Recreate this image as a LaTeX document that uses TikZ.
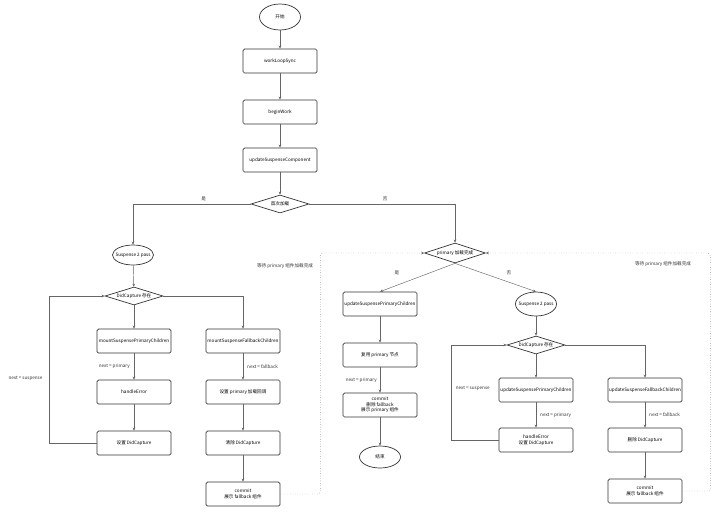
\documentclass[tikz,border=0pt]{standalone}
\usepackage{fontspec}
\setmainfont{Noto Sans CJK SC}
\usetikzlibrary{shapes.geometric,arrows.meta}

\begin{document}
\begin{tikzpicture}[x=1pt,y=-1pt,
    font=\fontsize{4.6}{5.6}\selectfont,
    box/.style={draw=black!80, line width=0.7pt, rounded corners=1.5pt,
      minimum width=74pt, minimum height=24pt, inner sep=1pt, align=center},
    oval/.style={ellipse, draw=black!80, line width=0.7pt, minimum width=41pt,
      minimum height=24pt, inner xsep=-3pt, inner ysep=0pt},
    cond/.style={diamond, draw=black!80, line width=0.7pt, aspect=3,
      inner sep=0.5pt, minimum width=58pt, minimum height=18pt},
    flow/.style={draw=black!60, line width=0.45pt, -{Stealth[length=3pt,width=2.6pt]}},
    wait/.style={flow, dotted, rounded corners=3pt},
    tag/.style={inner sep=1pt, text=black!80}]
  \useasboundingbox (0,0) rectangle (720,512);

  % main line
  \node[oval, minimum height=26pt] (start) at (280,17) {开始};
  \node[box] (loop) at (280,61) {workLoopSync};
  \node[box] (begin) at (280,112) {beginWork};
  \node[box] (update) at (280,160) {updateSuspenseComponent};
  \node[cond] (first) at (280,204) {首次加载};

  % first mount
  \node[oval, minimum height=20pt] (passL) at (133,255) {Suspense 2 pass};
  \node[cond] (capL) at (134,296) {DidCapture 存在};
  \node[box] (mountP) at (134,341) {mountSuspensePrimaryChildren};
  \node[box] (errL) at (134,392) {handleError};
  \node[box] (setL) at (134,443) {设置 DidCapture};
  \node[box] (mountF) at (243,341) {mountSuspenseFallbackChildren};
  \node[box] (attach) at (243,392) {设置 primary 加载回调};
  \node[box] (clearL) at (243,443) {清除 DidCapture};
  \node[box] (commitF) at (243,494) {commit\\展示 fallback 组件};

  % update
  \node[cond, minimum width=61pt, minimum height=20pt] (done) at (455,253) {primary 加载完成};
  \node[box] (updP) at (380,304) {updateSuspensePrimaryChildren};
  \node[box] (reuse) at (380,355) {复用 primary 节点};
  \node[box] (commitP) at (380,405) {commit\\删除 fallback\\展示 primary 组件};
  \node[oval, minimum height=22pt] (end) at (380,457) {结束};
  \node[oval] (passR) at (536,304) {Suspense 2 pass};
  \node[cond] (capR) at (536,345) {DidCapture 存在};
  \node[box] (updPR) at (536,390) {updateSuspensePrimaryChildren};
  \node[box] (errR) at (536,440) {handleError\\设置 DidCapture};
  \node[box] (updFR) at (645,390) {updateSuspenseFallbackChildren};
  \node[box] (delR) at (645,440) {删除 DidCapture};
  \node[box] (commitFR) at (645,491) {commit\\展示 fallback 组件};

  \node[tag] (waitL) at (285,266) {等待 primary 组件加载完成};
  \node[tag] (waitR) at (663,264) {等待 primary 组件加载完成};
  \node[tag] (yesR) at (397,273) {是};
  \node[tag] (noR) at (509,273) {否};

  \draw[flow] (start) -- (loop);
  \draw[flow] (loop) -- (begin);
  \draw[flow] (begin) -- (update);
  \draw[flow] (update) -- (first);
  \draw[flow] (first.west) -| node[tag, pos=0.2, above=2pt] {是} (passL.north);
  \draw[flow] (first.east) -| node[tag, pos=0.26, above=2pt] {否} (done.north);

  \draw[flow] (passL) -- (capL);
  \draw[flow] (capL) -- (mountP);
  \draw[flow] (capL.east) -| (mountF.north);
  \draw[flow] (mountP) -- node[tag, left=3pt] {next = primary} (errL);
  \draw[flow] (errL) -- (setL);
  \draw[flow] (setL.west) -- ++(-47,0) |- node[tag, pos=0.22, left=6pt] {next = suspense} (capL.west);
  \draw[flow] (mountF) -- node[tag, right=3pt] {next = fallback} (attach);
  \draw[flow] (attach) -- (clearL);
  \draw[flow] (clearL) -- (commitF);
  \draw[wait] (commitF.east) -- ++(40,0) |- (done.west);

  \draw[flow] (done.south) -- (updP.north);
  \draw[flow] (done.south) -- (passR.north);
  \draw[flow] (updP) -- (reuse);
  \draw[flow] (reuse) -- node[tag, left=2pt] {next = primary} (commitP);
  \draw[flow] (commitP) -- (end);
  \draw[flow] (passR) -- (capR);
  \draw[flow] (capR) -- (updPR);
  \draw[flow] (capR.east) -| (updFR.north);
  \draw[flow] (updPR) -- node[tag, right=3pt] {next = primary} (errR);
  \draw[flow] (errR.west) -- ++(-47,0) |- node[tag, pos=0.27, right=3pt] {next = suspense} (capR.west);
  \draw[flow] (updFR) -- node[tag, right=3pt] {next = fallback} (delR);
  \draw[flow] (delR) -- (commitFR);
  \draw[wait] (commitFR.east) -- ++(28,0) |- (done.east);
\end{tikzpicture}
\end{document}
